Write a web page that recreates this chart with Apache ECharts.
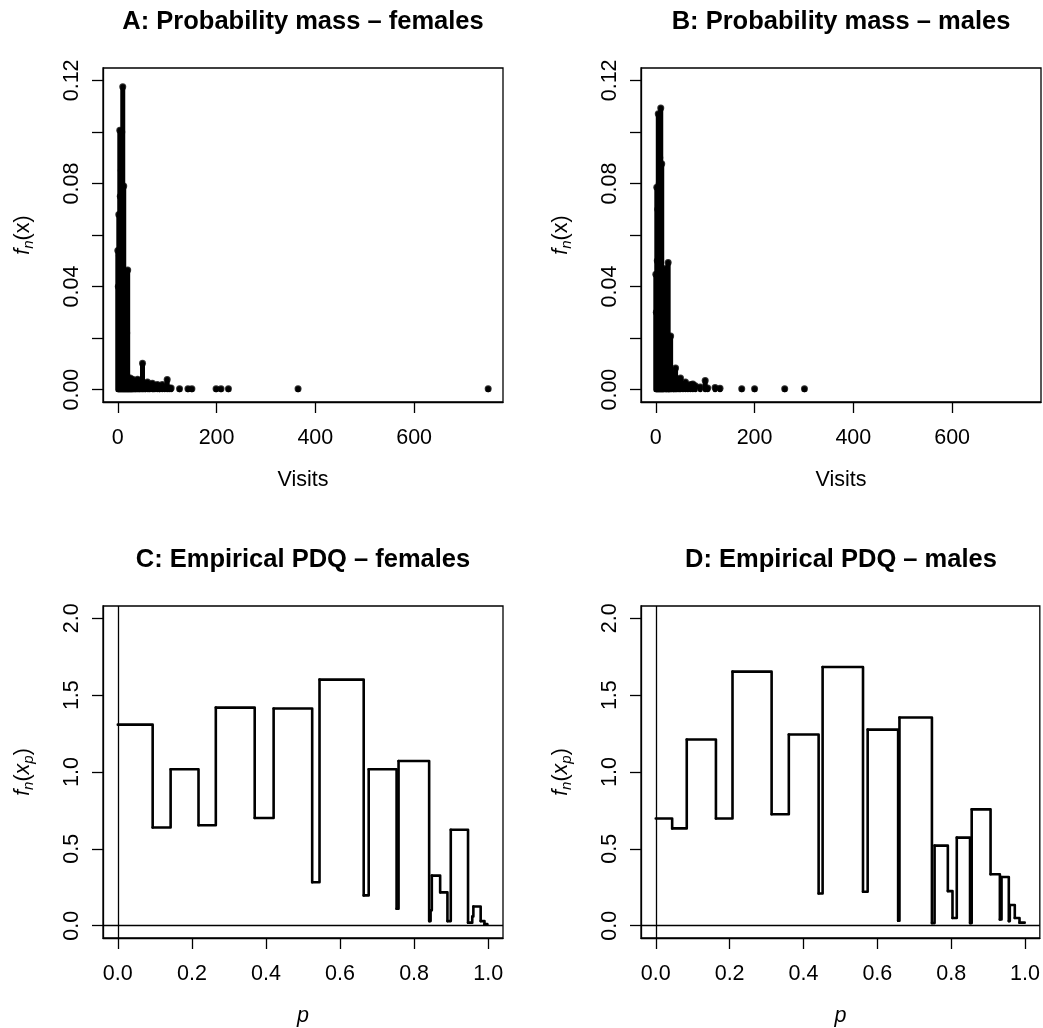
<!DOCTYPE html>
<html><head><meta charset="utf-8">
<script src="https://cdn.jsdelivr.net/npm/echarts@6/dist/echarts.min.js"></script>
<style>html,body{margin:0;padding:0;background:#fff}#c{width:1043px;height:1028px}</style>
</head><body><div id="c"></div>
<script>
// ---- data ----
const femaleVisits = [0,1,2,3,4,5,6,7,8,9,10,11,12,13,14,15,16,17,18,19,20,21,22,23,24,25,26,27,28,29,30,32,33,35,36,38,40,42,44,45,48,50,52,55,56,60,63,65,70,72,75,80,84,85,90,95,100,104,108,125,142,150,199,209,224,365,750];
const femaleMass = [0.054,0.040,0.068,0.052,0.1006,0.075,0.047,0.085,0.100,0.065,0.1175,0.014,0.079,0.008,0.020,0.045,0.015,0.010,0.022,0.005,0.0464,0.0035,0.004,0.002,0.003,0.0045,0.0015,0.002,0.0025,0.001,0.004,0.001,0.0015,0.003,0.0012,0.0012,0.004,0.0015,0.001,0.0035,0.0025,0.0102,0.001,0.0025,0.0008,0.003,0.0008,0.0018,0.0025,0.0008,0.0015,0.002,0.001,0.0012,0.002,0.001,0.0039,0.0006,0.0006,0.0003,0.0003,0.0003,0.0003,0.0003,0.0003,0.0003,0.0003];
const maleVisits = [0,1,2,3,4,5,6,7,8,9,10,11,12,13,14,15,16,18,20,21,22,24,25,26,27,28,30,32,35,36,38,40,42,45,48,50,55,60,65,70,75,80,90,100,105,120,130,174,200,261,301];
const maleMass = [0.0448,0.030,0.0785,0.050,0.070,0.107,0.060,0.080,0.090,0.050,0.1093,0.010,0.0876,0.015,0.030,0.045,0.010,0.015,0.047,0.006,0.008,0.008,0.0493,0.003,0.004,0.005,0.0208,0.003,0.006,0.002,0.003,0.0084,0.002,0.004,0.002,0.0045,0.002,0.003,0.0015,0.002,0.0022,0.0015,0.001,0.0035,0.0006,0.0008,0.0005,0.0003,0.0003,0.0003,0.0003];

// PDQ step functions: breakpoints (p) and step heights (one fewer than breakpoints)
const femalePdqP = [0,0.0941,0.1426,0.2179,0.2646,0.3696,0.4207,0.5248,0.5446,0.6639,0.6774,0.7527,0.758,0.8406,0.8445,0.8478,0.8703,0.890,0.899,0.9456,0.957,0.960,0.9797,0.990,0.9977];
const femalePdqH = [1.308,0.639,1.018,0.654,1.419,0.701,1.413,0.283,1.601,0.197,1.018,0.110,1.072,0.03,0.10,0.326,0.217,0.03,0.624,0.02,0.06,0.125,0.03,0.01];
const malePdqP = [0,0.0444,0.0839,0.1629,0.2078,0.3137,0.3603,0.4410,0.4518,0.5612,0.5738,0.6563,0.6599,0.7478,0.7550,0.7909,0.8035,0.8151,0.8510,0.8555,0.9066,0.9318,0.9363,0.9560,0.9587,0.9722,0.985,0.9991];
const malePdqH = [0.697,0.633,1.211,0.697,1.653,0.725,1.244,0.210,1.683,0.221,1.276,0.032,1.355,0.017,0.521,0.225,0.050,0.573,0.017,0.757,0.335,0.04,0.317,0.03,0.135,0.05,0.02];

const massTickX = [0,200,400,600];
const massTickY = [0,0.02,0.04,0.06,0.08,0.10,0.12];
const massLabelY = [0,0.04,0.08,0.12];
const pdqTickX = [0,0.2,0.4,0.6,0.8,1.0];
const pdqTickY = [0,0.5,1.0,1.5,2.0];

const titles = ['A: Probability mass \u2013 females','B: Probability mass \u2013 males','C: Empirical PDQ \u2013 females','D: Empirical PDQ \u2013 males'];

// ---- chart ----
const FONT = 'Liberation Sans, Arial, Helvetica, sans-serif';
const FS = 21.5;
const grids = [
  {left:103, top:68, width:400, height:334},
  {left:641, top:68, width:400, height:334},
  {left:103, top:606, width:400, height:333},
  {left:641, top:606, width:400, height:333}
].map(g => Object.assign({show:true, borderColor:'#000', borderWidth:1.3, backgroundColor:'transparent'}, g));

const richY = {
  n:{fontFamily:FONT, fontSize:FS, color:'#000', lineHeight:26, verticalAlign:'middle'},
  i:{fontFamily:FONT, fontSize:FS, fontStyle:'italic', color:'#000', lineHeight:26, verticalAlign:'middle'},
  s:{fontFamily:FONT, fontSize:15, fontStyle:'italic', color:'#000', lineHeight:13, verticalAlign:'bottom'}
};

function xAxis(gi, min, max, ticks, dec, name, italic) {
  return {type:'value', gridIndex:gi, min, max,
    axisLine:{show:true, onZero:false, lineStyle:{color:'#000', width:1.3}},
    splitLine:{show:false},
    axisTick:{show:true, inside:false, length:11, customValues:ticks, lineStyle:{color:'#000', width:1.3}},
    axisLabel:{show:true, customValues:ticks, formatter:v=>v.toFixed(dec), color:'#000', fontSize:FS, fontFamily:FONT, margin:36, verticalAlign:'middle'},
    name, nameLocation:'middle', nameGap:78,
    nameTextStyle:{color:'#000', fontSize:FS, fontFamily:FONT, fontStyle: italic?'italic':'normal', verticalAlign:'middle', align:'center'}
  };
}
function yAxis(gi, min, max, ticks, labels, dec, name) {
  return {type:'value', gridIndex:gi, min, max,
    axisLine:{show:true, onZero:false, lineStyle:{color:'#000', width:1.3}},
    splitLine:{show:false},
    axisTick:{show:true, inside:false, length:11, customValues:ticks, lineStyle:{color:'#000', width:1.3}},
    axisLabel:{show:true, customValues:labels, formatter:v=>v.toFixed(dec), color:'#000', fontSize:FS, fontFamily:FONT, margin:31, rotate:90, align:'center', verticalAlign:'middle'},
    name, nameLocation:'middle', nameGap:80, nameRotate:90,
    nameTextStyle:{color:'#000', fontSize:FS, fontFamily:FONT, verticalAlign:'middle', align:'center', rich:richY}
  };
}

function massSeries(gi, xs, fs) {
  const data = xs.map((x,i)=>[x, fs[i]]);
  return [{
    type:'custom', xAxisIndex:gi, yAxisIndex:gi, data, silent:true, animation:false,
    renderItem:(params, api)=>{
      const x = api.value(0), y = api.value(1);
      const p0 = api.coord([x,0]), p1 = api.coord([x,y]);
      return {type:'line', shape:{x1:p0[0], y1:p0[1], x2:p1[0], y2:p1[1]},
        style:{stroke:'#000', lineWidth:5, lineCap:'round'}};
    }
  },{
    type:'scatter', xAxisIndex:gi, yAxisIndex:gi, data, symbol:'circle', symbolSize:7,
    itemStyle:{color:'#000'}, silent:true, animation:false
  }];
}
function pdqSeries(gi, ps, hs) {
  // one custom item per step: horizontal run plus the vertical jump to the next step
  const data = hs.map((h,i)=>[ps[i], ps[i+1], h, i+1<hs.length ? hs[i+1] : h]);
  return [{type:'custom', xAxisIndex:gi, yAxisIndex:gi, data, silent:true, animation:false,
    renderItem:(params, api)=>{
      const a = api.coord([api.value(0), api.value(2)]);
      const b = api.coord([api.value(1), api.value(2)]);
      const c = api.coord([api.value(1), api.value(3)]);
      return {type:'polyline', shape:{points:[a,b,c]},
        style:{stroke:'#000', lineWidth:2.6, fill:null, lineJoin:'round', lineCap:'round'}};
    }
  },{type:'line', xAxisIndex:gi, yAxisIndex:gi, data:[], silent:true, animation:false,
    markLine:{silent:true, symbol:'none', animation:false, label:{show:false},
      lineStyle:{color:'#000', width:1.3, type:'solid'},
      data:[{xAxis:0},{yAxis:0}]}
  }];
}

const centers = [303, 841];
const graphics = titles.map((t,k)=>({type:'text', x:centers[k%2], y:(k<2?22:560),
  style:{text:t, font:'bold 25.5px '+FONT, fill:'#000', textAlign:'center', textVerticalAlign:'middle'}}));

const chart = echarts.init(document.getElementById('c'), null, {renderer:'canvas'});
chart.setOption({
  animation:false,
  backgroundColor:'#fff',
  grid: grids,
  xAxis:[
    xAxis(0,-30,780,massTickX,0,'Visits',false),
    xAxis(1,-30,780,massTickX,0,'Visits',false),
    xAxis(2,-0.04,1.04,pdqTickX,1,'p',true),
    xAxis(3,-0.04,1.04,pdqTickX,1,'p',true)
  ],
  yAxis:[
    yAxis(0,-0.0048,0.1248,massTickY,massLabelY,2,'{i|f}{s|n}{n|(x)}'),
    yAxis(1,-0.0048,0.1248,massTickY,massLabelY,2,'{i|f}{s|n}{n|(x)}'),
    yAxis(2,-0.08,2.08,pdqTickY,pdqTickY,1,'{i|f}{s|n}{n|(}{i|x}{s|p}{n|)}'),
    yAxis(3,-0.08,2.08,pdqTickY,pdqTickY,1,'{i|f}{s|n}{n|(}{i|x}{s|p}{n|)}')
  ],
  series:[
    ...massSeries(0, femaleVisits, femaleMass),
    ...massSeries(1, maleVisits, maleMass),
    ...pdqSeries(2, femalePdqP, femalePdqH),
    ...pdqSeries(3, malePdqP, malePdqH)
  ],
  graphic: graphics
});
</script></body></html>
